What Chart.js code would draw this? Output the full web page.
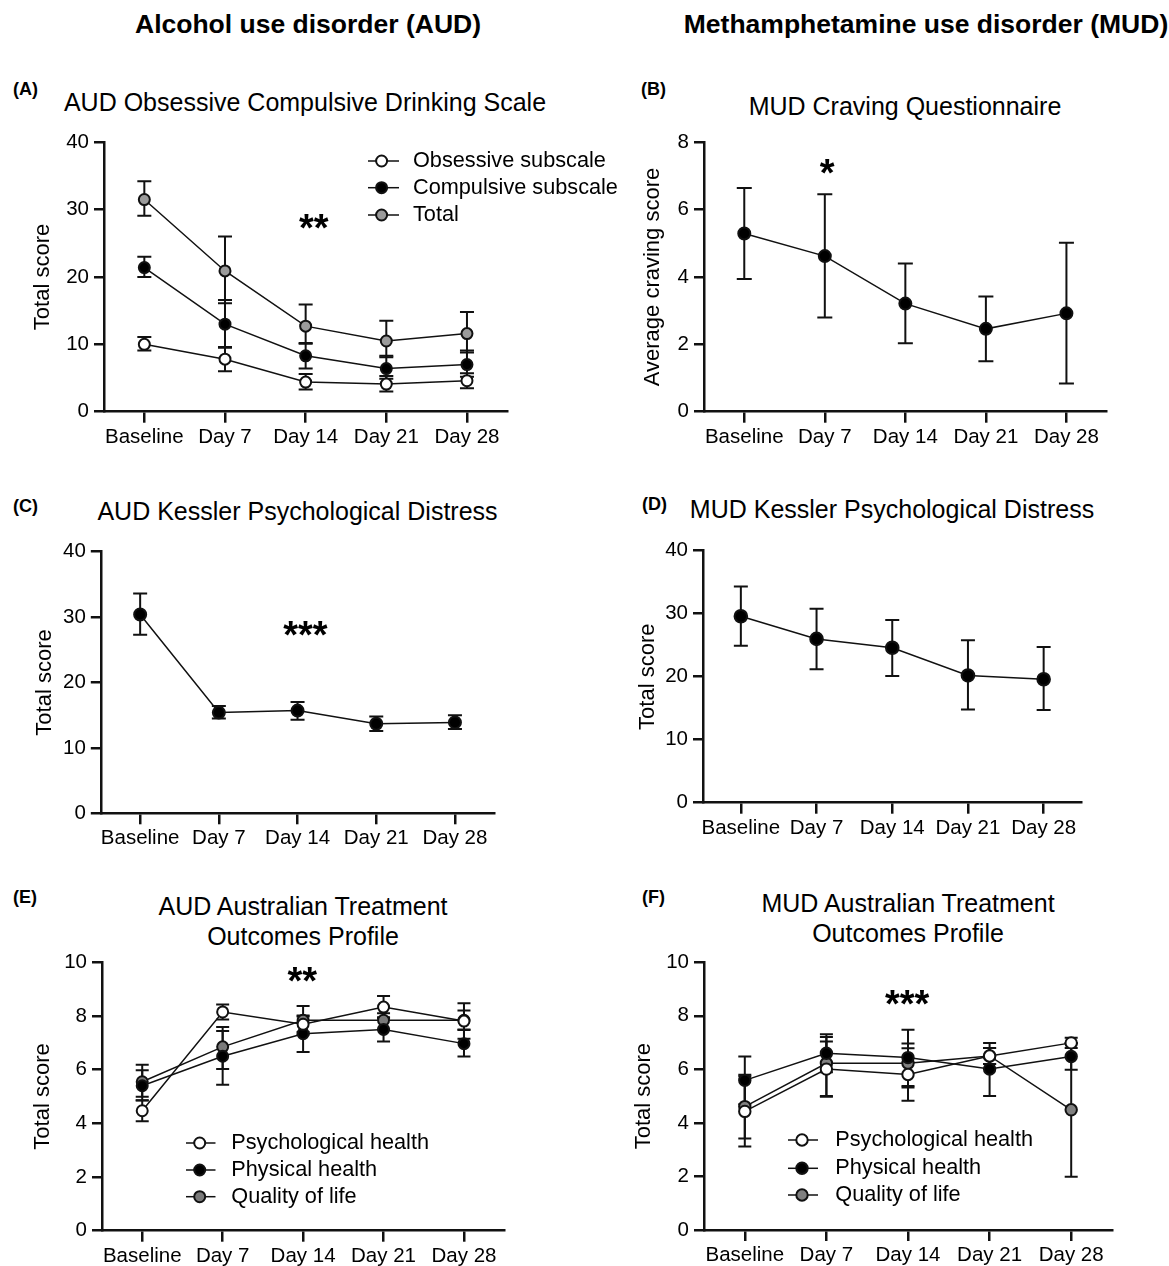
<!DOCTYPE html>
<html>
<head>
<meta charset="utf-8">
<script src="https://cdn.jsdelivr.net/npm/chart.js@4.4.1/dist/chart.umd.min.js"></script>
<style>
  body { margin: 0; background: #fff; width: 1169px; height: 1266px; position: relative; overflow: hidden;
         font-family: "Liberation Sans", Arial, Helvetica, sans-serif; color: #000; }
  .t { position: absolute; white-space: nowrap; line-height: 1; }
  .c { transform: translateX(-50%); }
  .b { font-weight: bold; }
  canvas { position: absolute; }
</style>
</head>
<body>

<div class="t b c" style="font-size:26.5px;left:308px;top:10.9px">Alcohol use disorder (AUD)</div>
<div class="t b c" style="font-size:26.5px;left:926px;top:10.9px">Methamphetamine use disorder (MUD)</div>

<div class="t b" style="font-size:18px;left:13px;top:79.8px">(A)</div>
<div class="t b" style="font-size:18px;left:641px;top:79.8px">(B)</div>
<div class="t b" style="font-size:18px;left:13px;top:496.5px">(C)</div>
<div class="t b" style="font-size:18px;left:642px;top:494.8px">(D)</div>
<div class="t b" style="font-size:18px;left:13px;top:887.8px">(E)</div>
<div class="t b" style="font-size:18px;left:642px;top:887.8px">(F)</div>

<div class="t c" style="font-size:25px;left:305px;top:89.8px">AUD Obsessive Compulsive Drinking Scale</div>
<div class="t c" style="font-size:25px;left:905px;top:93.8px">MUD Craving Questionnaire</div>
<div class="t c" style="font-size:25px;left:297.5px;top:498.8px">AUD Kessler Psychological Distress</div>
<div class="t c" style="font-size:25px;left:892px;top:497.1px">MUD Kessler Psychological Distress</div>
<div class="t c" style="font-size:25px;left:303px;top:893.8px">AUD Australian Treatment</div>
<div class="t c" style="font-size:25px;left:303px;top:923.8px">Outcomes Profile</div>
<div class="t c" style="font-size:25px;left:908px;top:890.5px">MUD Australian Treatment</div>
<div class="t c" style="font-size:25px;left:908px;top:920.5px">Outcomes Profile</div>

<canvas id="cA" width="620" height="342" style="left:0px;top:120px"></canvas>
<canvas id="cB" width="549" height="342" style="left:620px;top:120px"></canvas>
<canvas id="cC" width="620" height="334" style="left:0px;top:530px"></canvas>
<canvas id="cD" width="549" height="324" style="left:620px;top:530px"></canvas>
<canvas id="cE" width="620" height="321" style="left:0px;top:945px"></canvas>
<canvas id="cF" width="549" height="321" style="left:620px;top:945px"></canvas>

<script>
const days = ["Baseline", "Day 7", "Day 14", "Day 21", "Day 28"];

// (A) AUD Obsessive Compulsive Drinking Scale
const ocdsObsessive = [10.0, 7.8, 4.4, 4.1, 4.6];
const ocdsObsessiveLo = [9.1, 6.0, 3.3, 3.0, 3.5];
const ocdsObsessiveHi = [11.1, 9.5, 5.6, 5.3, 5.7];
const ocdsCompulsive = [21.4, 13.0, 8.3, 6.4, 7.0];
const ocdsCompulsiveLo = [20.0, 9.6, 6.4, 4.9, 5.2];
const ocdsCompulsiveHi = [23.0, 16.6, 10.2, 8.3, 9.1];
const ocdsTotal = [31.5, 20.9, 12.7, 10.5, 11.6];
const ocdsTotalLo = [29.1, 16.1, 10.1, 8.1, 8.8];
const ocdsTotalHi = [34.2, 26.0, 15.9, 13.5, 14.8];

// (B) MUD craving
const craving = [5.29, 4.62, 3.21, 2.46, 2.92];
const cravingLo = [3.94, 2.80, 2.03, 1.50, 0.84];
const cravingHi = [6.64, 6.46, 4.40, 3.42, 5.02];

// (C) AUD Kessler
const k10Aud = [30.4, 15.4, 15.7, 13.7, 13.9];
const k10AudLo = [27.3, 14.5, 14.3, 12.6, 12.9];
const k10AudHi = [33.6, 16.4, 17.0, 14.8, 15.0];

// (D) MUD Kessler
const k10Mud = [29.6, 26.0, 24.6, 20.2, 19.6];
const k10MudLo = [24.9, 21.2, 20.1, 14.8, 14.7];
const k10MudHi = [34.3, 30.8, 29.0, 25.8, 24.7];

// (E) AUD ATOP
const atopAudPsych = [4.47, 8.15, 7.69, 8.33, 7.81];
const atopAudPsychLo = [4.08, 7.87, 7.40, 7.92, 7.15];
const atopAudPsychHi = [4.86, 8.43, 7.98, 8.74, 8.47];
const atopAudPhys = [5.40, 6.50, 7.34, 7.50, 6.97];
const atopAudPhysLo = [4.85, 5.44, 6.66, 7.05, 6.49];
const atopAudPhysHi = [5.98, 7.44, 8.02, 7.95, 7.48];
const atopAudQol = [5.55, 6.85, 7.84, 7.84, 7.84];
const atopAudQolLo = [4.99, 6.02, 7.31, 7.50, 7.50];
const atopAudQolHi = [6.18, 7.59, 8.37, 8.10, 8.20];

// (F) MUD ATOP
const atopMudPsych = [4.43, 6.01, 5.81, 6.50, 6.99];
const atopMudPsychLo = [3.12, 4.98, 4.83, 6.20, 6.80];
const atopMudPsychHi = [5.74, 7.04, 6.79, 6.80, 7.18];
const atopMudPhys = [5.59, 6.60, 6.44, 6.01, 6.48];
const atopMudPhysLo = [4.70, 5.89, 5.38, 5.01, 5.99];
const atopMudPhysHi = [6.48, 7.31, 7.48, 6.99, 6.97];
const atopMudQol = [4.61, 6.23, 6.23, 6.50, 4.49];
const atopMudQolLo = [3.42, 5.01, 5.32, 6.20, 1.99];
const atopMudQolHi = [5.80, 7.21, 6.97, 6.80, 6.99];

const FONT = '"Liberation Sans", Arial, Helvetica, sans-serif';
const INK = "#111";

const panels = {
  cA: {
    x: 0, y: 120, w: 620, h: 342, area: { left: 104, right: 507.3, top: 142.3, bottom: 411.7 },
    yMax: 40, yStep: 10, yTitle: "Total score", yTitleX: 43.3, capW: 14, r: 5.5,
    series: [
      { label: "Obsessive subscale", data: ocdsObsessive, lo: ocdsObsessiveLo, hi: ocdsObsessiveHi, fill: "#fff" },
      { label: "Compulsive subscale", data: ocdsCompulsive, lo: ocdsCompulsiveLo, hi: ocdsCompulsiveHi, fill: "#000" },
      { label: "Total", data: ocdsTotal, lo: ocdsTotalLo, hi: ocdsTotalHi, fill: "#9b9b9b" },
    ],
    legend: { x1: 368, x2: 399, mx: 381.6, tx: 413, rows: [161, 187.7, 215] },
    stars: { text: "**", at: 2.1, value: 28.5 },
  },
  cB: {
    x: 620, y: 120, w: 549, h: 342, area: { left: 704, right: 1106.7, top: 142.3, bottom: 411.7 },
    yMax: 8, yStep: 2, yTitle: "Average craving score", yTitleX: 653.1, capW: 15, r: 6,
    series: [
      { label: "Craving", data: craving, lo: cravingLo, hi: cravingHi, fill: "#000" },
    ],
    stars: { text: "*", at: 1.03, value: 7.33 },
  },
  cC: {
    x: 0, y: 530, w: 620, h: 334, area: { left: 100.8, right: 494.3, top: 551.7, bottom: 813.3 },
    yMax: 40, yStep: 10, yTitle: "Total score", yTitleX: 44.9, capW: 14, r: 6,
    series: [
      { label: "Kessler", data: k10Aud, lo: k10AudLo, hi: k10AudHi, fill: "#000" },
    ],
    stars: { text: "***", at: 2.1, value: 28.4 },
  },
  cD: {
    x: 620, y: 530, w: 549, h: 324, area: { left: 703, right: 1081.5, top: 550.7, bottom: 802.7 },
    yMax: 40, yStep: 10, yTitle: "Total score", yTitleX: 647.7, capW: 14, r: 6.3,
    series: [
      { label: "Kessler", data: k10Mud, lo: k10MudLo, hi: k10MudHi, fill: "#000" },
    ],
  },
  cE: {
    x: 0, y: 945, w: 620, h: 321, area: { left: 102, right: 504.2, top: 961, bottom: 1230.7 },
    yMax: 10, yStep: 2, yTitle: "Total score", yTitleX: 43.3, capW: 13, r: 5.5,
    series: [
      { label: "Psychological health", data: atopAudPsych, lo: atopAudPsychLo, hi: atopAudPsychHi, fill: "#fff" },
      { label: "Physical health", data: atopAudPhys, lo: atopAudPhysLo, hi: atopAudPhysHi, fill: "#000" },
      { label: "Quality of life", data: atopAudQol, lo: atopAudQolLo, hi: atopAudQolHi, fill: "#7a7a7a" },
    ],
    legend: { x1: 186, x2: 215.5, mx: 199.7, tx: 231.3, rows: [1143, 1170, 1196.7] },
    stars: { text: "**", at: 1.99, value: 9.61 },
  },
  cF: {
    x: 620, y: 945, w: 549, h: 321, area: { left: 704, right: 1112, top: 957.3, bottom: 1230 },
    yMax: 10, yStep: 2, yTitle: "Total score", yTitleX: 644.2, capW: 13, r: 5.7,
    series: [
      { label: "Psychological health", data: atopMudPsych, lo: atopMudPsychLo, hi: atopMudPsychHi, fill: "#fff" },
      { label: "Physical health", data: atopMudPhys, lo: atopMudPhysLo, hi: atopMudPhysHi, fill: "#000" },
      { label: "Quality of life", data: atopMudQol, lo: atopMudQolLo, hi: atopMudQolHi, fill: "#808080" },
    ],
    legend: { x1: 788, x2: 818, mx: 802, tx: 835.3, rows: [1140, 1168.3, 1195] },
    stars: { text: "***", at: 1.99, value: 8.73 },
  },
};

// error bars under the lines, legend + significance stars on top
const extras = {
  id: "extras",
  beforeDatasetsDraw(chart) {
    const p = panels[chart.canvas.id];
    const { ctx } = chart;
    const xs = chart.scales.x, ys = chart.scales.y;
    ctx.save();
    ctx.strokeStyle = INK;
    ctx.lineWidth = 2;
    p.series.forEach((s) => {
      s.data.forEach((v, i) => {
        const px = xs.getPixelForValue(i);
        const top = ys.getPixelForValue(s.hi[i]);
        const bot = ys.getPixelForValue(s.lo[i]);
        const hw = p.capW / 2;
        ctx.beginPath();
        ctx.moveTo(px, top); ctx.lineTo(px, bot);
        ctx.moveTo(px - hw, top); ctx.lineTo(px + hw, top);
        ctx.moveTo(px - hw, bot); ctx.lineTo(px + hw, bot);
        ctx.stroke();
      });
    });
    ctx.restore();
  },
  afterDatasetsDraw(chart) {
    const p = panels[chart.canvas.id];
    const { ctx } = chart;
    ctx.save();
    if (p.legend) {
      const L = p.legend;
      p.series.forEach((s, i) => {
        const ry = L.rows[i] - p.y;
        ctx.strokeStyle = INK;
        ctx.lineWidth = 1.5;
        ctx.beginPath();
        ctx.moveTo(L.x1 - p.x, ry); ctx.lineTo(L.x2 - p.x, ry);
        ctx.stroke();
        ctx.beginPath();
        ctx.arc(L.mx - p.x, ry, p.r, 0, Math.PI * 2);
        ctx.fillStyle = s.fill;
        ctx.fill();
        ctx.lineWidth = 2;
        ctx.stroke();
        ctx.fillStyle = "#000";
        ctx.font = "21.7px " + FONT;
        ctx.textAlign = "left";
        ctx.textBaseline = "middle";
        ctx.fillText(s.label, L.tx - p.x, ry);
      });
    }
    if (p.stars) {
      const size = 38;
      const sx = chart.scales.x.getPixelForValue(p.stars.at);
      const sy = chart.scales.y.getPixelForValue(p.stars.value);
      ctx.fillStyle = "#000";
      ctx.font = "bold " + size + "px " + FONT;
      ctx.textAlign = "center";
      ctx.textBaseline = "alphabetic";
      ctx.fillText(p.stars.text, sx, sy + 0.55 * size);
    }
    ctx.restore();
  },
};

Object.keys(panels).forEach((id) => {
  const p = panels[id];
  const a = p.area;
  const yW = a.left - p.x;
  const xH = p.y + p.h - a.bottom;
  const pt = a.top - p.y;
  const pr = p.x + p.w - a.right;
  const titleSize = 22;
  const titlePad = p.yTitleX - p.x - titleSize * 1.2 / 2;

  new Chart(document.getElementById(id), {
    type: "line",
    data: {
      labels: days,
      datasets: p.series.map((s) => ({
        label: s.label,
        data: s.data,
        borderColor: INK,
        borderWidth: 1.5,
        pointRadius: p.r,
        pointBorderWidth: 2,
        pointBorderColor: INK,
        pointBackgroundColor: s.fill,
        tension: 0,
        fill: false,
        clip: false,
      })),
    },
    options: {
      responsive: false,
      animation: false,
      events: [],
      layout: { padding: { left: 0, top: pt, right: pr, bottom: 0 } },
      plugins: { legend: { display: false }, tooltip: { enabled: false }, title: { display: false } },
      scales: {
        x: {
          type: "category",
          offset: true,
          afterFit(s) { s.height = xH; },
          grid: { display: true, drawOnChartArea: false, drawTicks: true, tickLength: 11, color: INK, lineWidth: 2.5 },
          border: { display: true, color: INK, width: 2.5 },
          ticks: { color: "#000", font: { family: FONT, size: 20.5 }, padding: 2, maxRotation: 0, autoSkip: false },
        },
        y: {
          min: 0,
          max: p.yMax,
          afterFit(s) { s.width = yW; },
          grid: { display: true, drawOnChartArea: false, drawTicks: true, tickLength: 10, color: INK, lineWidth: 2.5 },
          border: { display: true, color: INK, width: 2.5 },
          ticks: { stepSize: p.yStep, color: "#000", font: { family: FONT, size: 20.5 }, padding: 5 },
          title: {
            display: true,
            text: p.yTitle,
            color: "#000",
            font: { family: FONT, size: titleSize },
            padding: { top: titlePad, bottom: 0 },
          },
        },
      },
    },
    plugins: [extras],
  });
});
</script>
</body>
</html>
